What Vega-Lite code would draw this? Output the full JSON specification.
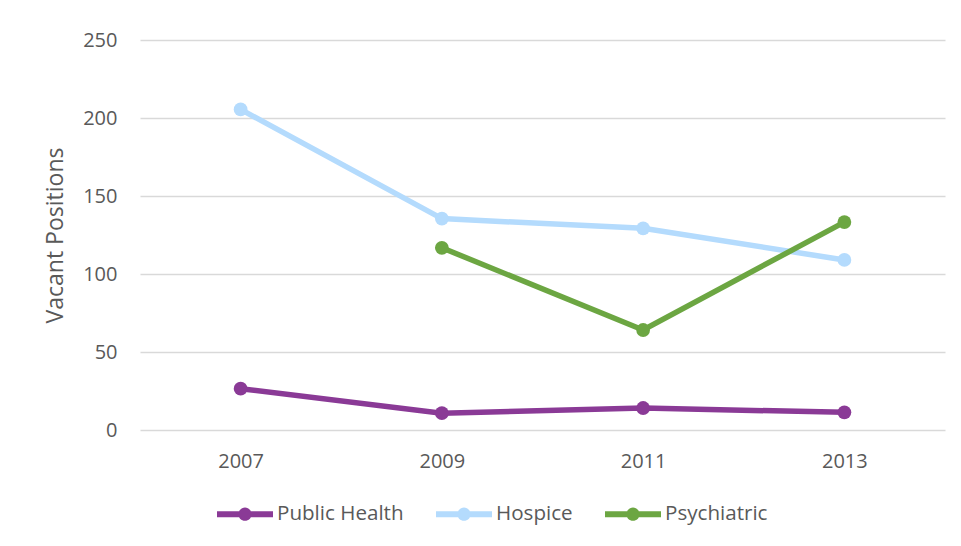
{
  "$schema": "https://vega.github.io/schema/vega-lite/v6.json",
  "width": 805,
  "height": 390,
  "autosize": {"type": "none"},
  "padding": {"left": 140, "top": 40, "right": 16, "bottom": 116},
  "background": "white",
  "config": {
    "view": {"stroke": null},
    "font": "Open Sans",
    "axis": {"labelColor": "#595959", "titleColor": "#595959", "labelFontSize": 20, "titleFontSize": 23, "titleFontWeight": "normal", "gridColor": "#D9D9D9", "gridWidth": 1.5, "domain": false, "ticks": false}
  },
  "data": {
    "values": [
      {"year": "2007", "series": "Public Health", "value": 26.5},
      {"year": "2009", "series": "Public Health", "value": 10.8},
      {"year": "2011", "series": "Public Health", "value": 14.1},
      {"year": "2013", "series": "Public Health", "value": 11.3},
      {"year": "2007", "series": "Hospice", "value": 205.5},
      {"year": "2009", "series": "Hospice", "value": 135.5},
      {"year": "2011", "series": "Hospice", "value": 129.3},
      {"year": "2013", "series": "Hospice", "value": 109},
      {"year": "2009", "series": "Psychiatric", "value": 116.8},
      {"year": "2011", "series": "Psychiatric", "value": 64.1},
      {"year": "2013", "series": "Psychiatric", "value": 133.3}
    ]
  },
  "encoding": {
    "x": {"field": "year", "type": "ordinal", "scale": {"type": "point", "padding": 0.5}, "axis": {"title": null, "labelAngle": 0, "grid": false, "labelPadding": 21}},
    "y": {"field": "value", "type": "quantitative", "scale": {"domain": [0, 250]}, "axis": {"title": "Vacant Positions", "values": [0, 50, 100, 150, 200, 250], "labelPadding": 23, "titlePadding": 15}},
    "color": {
      "field": "series", "type": "nominal",
      "scale": {"domain": ["Public Health", "Hospice", "Psychiatric"], "range": ["#8A3A96", "#B4DBFD", "#6CA642"]},
      "legend": {
        "title": null, "orient": "none", "direction": "horizontal", "legendX": 77, "legendY": 446,
        "symbolType": "M -1 -0.107 H 1 V 0.107 H -1 Z M 0.235 0 A 0.235 0.235 0 1 1 -0.235 0 A 0.235 0.235 0 1 1 0.235 0 Z",
        "symbolSize": 3136, "symbolStrokeWidth": 0, "symbolOpacity": 1,
        "labelFontSize": 20.6, "labelColor": "#595959", "labelOffset": 4, "columnPadding": 32
      }
    }
  },
  "layer": [
    {"mark": {"type": "line", "strokeWidth": 5.5}},
    {"mark": {"type": "point", "filled": true, "size": 190, "opacity": 1}}
  ]
}
